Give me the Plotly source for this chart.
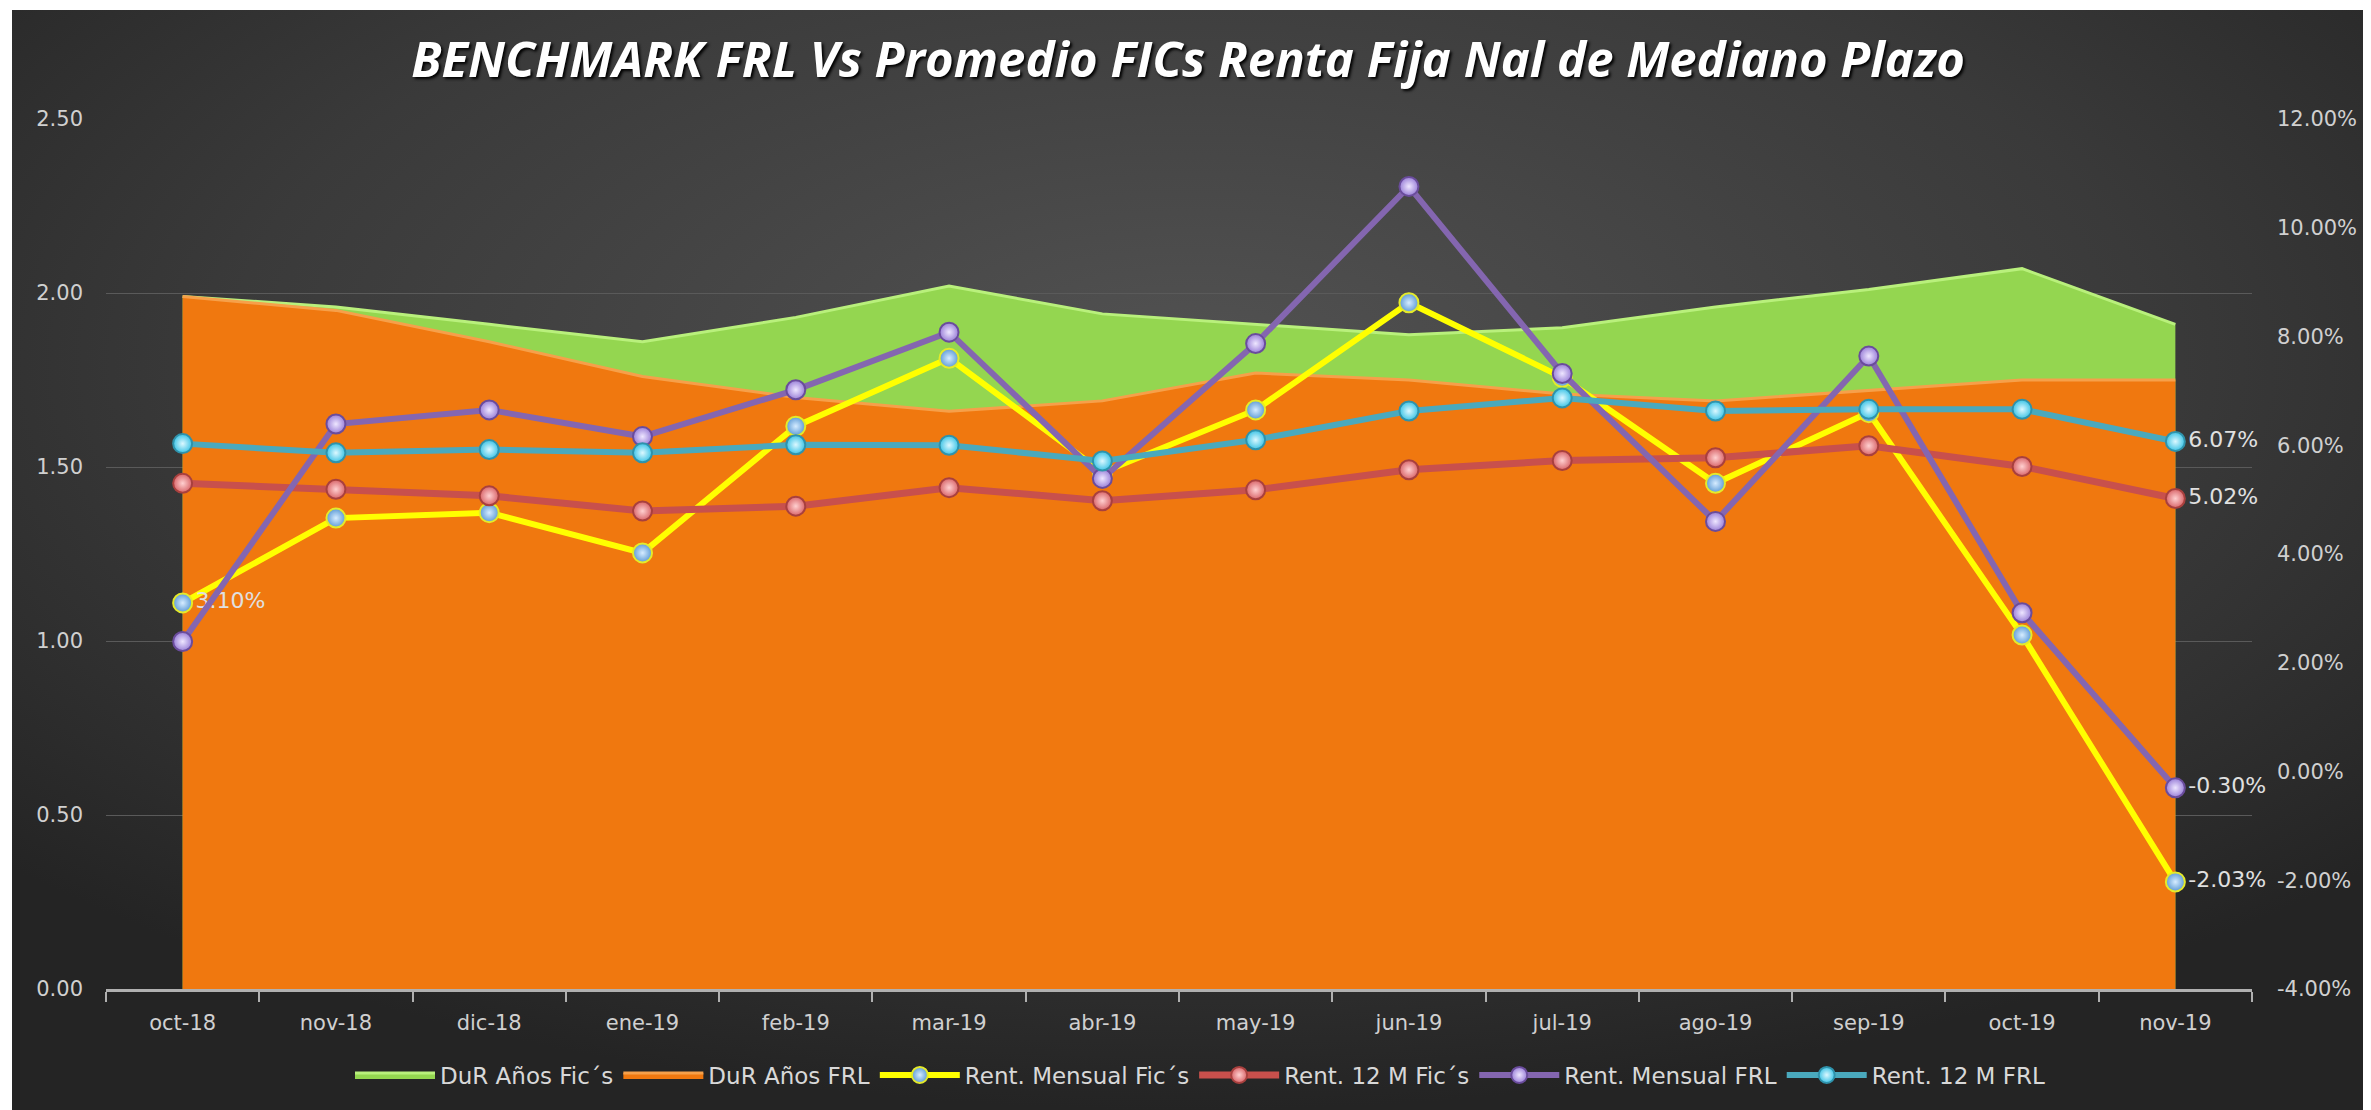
import base64
import plotly.graph_objects as go

# ---------------- data ----------------
months = ["oct-18", "nov-18", "dic-18", "ene-19", "feb-19", "mar-19", "abr-19",
          "may-19", "jun-19", "jul-19", "ago-19", "sep-19", "oct-19", "nov-19"]

dur_fics = [1.99, 1.96, 1.91, 1.86, 1.93, 2.02, 1.94, 1.91, 1.88, 1.90, 1.96, 2.01, 2.07, 1.91]
dur_frl = [1.99, 1.95, 1.86, 1.76, 1.70, 1.66, 1.69, 1.77, 1.75, 1.71, 1.69, 1.72, 1.75, 1.75]

rent_mensual_fics = [3.10, 4.66, 4.76, 4.02, 6.35, 7.60, 5.50, 6.65, 8.62, 7.25, 5.30, 6.60, 2.51, -2.03]
rent_12m_fics = [5.30, 5.19, 5.07, 4.79, 4.88, 5.22, 4.98, 5.18, 5.55, 5.72, 5.77, 5.99, 5.61, 5.02]
rent_mensual_frl = [2.39, 6.39, 6.65, 6.16, 7.02, 8.08, 5.39, 7.87, 10.76, 7.32, 4.60, 7.64, 2.92, -0.30]
rent_12m_frl = [6.03, 5.86, 5.92, 5.86, 6.01, 6.00, 5.71, 6.10, 6.63, 6.87, 6.63, 6.66, 6.66, 6.07]

left_ticks = [0, 0.5, 1.0, 1.5, 2.0, 2.5]
right_ticks = [-4, -2, 0, 2, 4, 6, 8, 10, 12]

title_text = "BENCHMARK FRL Vs Promedio FICs Renta Fija Nal de Mediano Plazo"

# ---------------- geometry (page has an 8px body margin) ----------------
W, H = 2363, 1102
ML, MR, MT, MB = 98, 119, 111, 121
PW, PH = W - ML - MR, H - MT - MB


def px_to_paper_x(px):
    return (px - ML) / PW


def py_to_paper_y(py):
    return (H - MB - py) / PH


TICK_FONT = dict(family="DejaVu Sans", size=21, color="#d0d0d0")
LABEL_FONT = dict(family="DejaVu Sans", size=22, color="#e0e0e0")

fig = go.Figure()

# areas (left axis)
fig.add_trace(go.Scatter(
    x=months, y=dur_fics, name="DuR Años Fic´s", mode="lines",
    fill="tozeroy", fillcolor="#94d650",
    line=dict(color="#b9f07c", width=3), yaxis="y"))
fig.add_trace(go.Scatter(
    x=months, y=dur_frl, name="DuR Años FRL", mode="lines",
    fill="tozeroy", fillcolor="#f0780f",
    line=dict(color="#f6a04a", width=3), yaxis="y"))


def last_label(vals, first=False):
    t = [""] * len(vals)
    t[-1] = f"{vals[-1]:.2f}%"
    if first:
        t[0] = f"{vals[0]:.2f}%"
    return t


def line_trace(vals, name, lcolor, mcolor, mcenter, medge, lw, text):
    return go.Scatter(
        x=months, y=vals, name=name, mode="lines+markers+text",
        line=dict(color=lcolor, width=lw),
        marker=dict(size=19, color=mcolor, line=dict(color=medge, width=2),
                    gradient=dict(type="radial", color=mcenter)),
        text=text, textposition="middle right", textfont=LABEL_FONT,
        cliponaxis=False, yaxis="y2")


fig.add_trace(line_trace(rent_mensual_fics, "Rent. Mensual Fic´s", "#ffff00",
                         "#5d9bd6", "#d6ecff", "#e4ea2a", 6,
                         last_label(rent_mensual_fics, first=True)))
fig.add_trace(line_trace(rent_12m_fics, "Rent. 12 M Fic´s", "#c8504c",
                         "#d9666a", "#ffd0d0", "#a8403e", 7,
                         last_label(rent_12m_fics)))
fig.add_trace(line_trace(rent_mensual_frl, "Rent. Mensual FRL", "#8466b0",
                         "#9a80d8", "#eee6ff", "#6a4c9c", 6,
                         last_label(rent_mensual_frl)))
fig.add_trace(line_trace(rent_12m_frl, "Rent. 12 M FRL", "#4aa9bd",
                         "#3ec4e6", "#dcf8ff", "#2f92ab", 6,
                         last_label(rent_12m_frl)))

# background gradient as svg image
bx, by = 4, 2
bw, bh = W - bx, H - by
svg = (f'<svg xmlns="http://www.w3.org/2000/svg" width="{bw}" height="{bh}" '
       f'viewBox="0 0 {bw} {bh}" preserveAspectRatio="none"><defs>'
       '<radialGradient id="g" cx="50%" cy="32%" r="68%">'
       '<stop offset="0" stop-color="#525252"/>'
       '<stop offset="0.6" stop-color="#3a3a3a"/>'
       '<stop offset="1" stop-color="#242424"/></radialGradient></defs>'
       f'<rect width="{bw}" height="{bh}" fill="url(#g)"/></svg>')
uri = "data:image/svg+xml;base64," + base64.b64encode(svg.encode()).decode()

fig.update_layout(
    width=W, height=H,
    margin=dict(l=ML, r=MR, t=MT, b=MB),
    paper_bgcolor="#ffffff",
    plot_bgcolor="rgba(0,0,0,0)",
    images=[dict(source=uri, xref="paper", yref="paper",
                 x=px_to_paper_x(bx), y=py_to_paper_y(by),
                 sizex=bw / PW, sizey=bh / PH, sizing="stretch",
                 xanchor="left", yanchor="top", layer="below")],
    title=dict(text=f"<b><i>{title_text}</i></b>", x=1180 / W, xanchor="center",
               y=1 - 52 / H, yanchor="middle", yref="container",
               font=dict(family="Open Sans", size=49, color="#ffffff",
                         shadow="2px 2px 3px #000000")),
    xaxis=dict(type="category", range=[-0.5, 13.5], showgrid=False,
               showline=True, linecolor="#b0b0b0", linewidth=3,
               ticks="outside", tickson="boundaries", ticklen=10,
               tickcolor="#b0b0b0", tickwidth=2,
               tickfont=TICK_FONT, ticklabelstandoff=13, zeroline=False),
    yaxis=dict(range=[0, 2.5], tickvals=left_ticks, tickformat=".2f",
               showgrid=True, gridcolor="#5a5a5a", gridwidth=1,
               zeroline=False, showline=False, tickfont=TICK_FONT,
               ticklabelstandoff=22),
    yaxis2=dict(range=[-4, 12], tickvals=right_ticks,
                ticktext=[f"{v:.2f}%" for v in right_ticks],
                overlaying="y", side="right", showgrid=False, zeroline=False,
                showline=False, tickfont=TICK_FONT, ticklabelstandoff=24),
    legend=dict(orientation="h", x=px_to_paper_x(1192), xanchor="center",
                y=py_to_paper_y(1067), yanchor="middle",
                font=dict(family="DejaVu Sans", size=23, color="#d8d8d8"),
                bgcolor="rgba(0,0,0,0)", itemwidth=80, tracegroupgap=0),
    showlegend=True,
)

fig.write_html("out.html")
